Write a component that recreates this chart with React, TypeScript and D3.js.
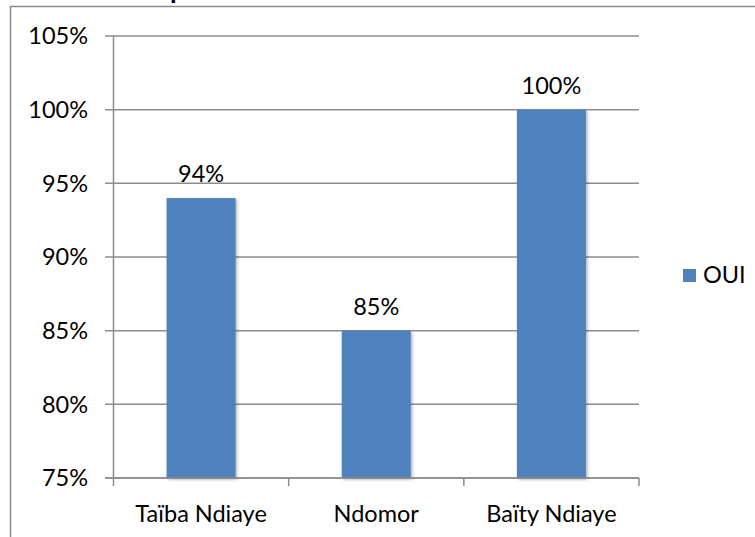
import React from "react";
import * as d3 from "d3";

const categories = ["Taïba Ndiaye", "Ndomor", "Baïty Ndiaye"];
const values = [94, 85, 100];
const valueLabels = ["94%", "85%", "100%"];
const yTicks = [75, 80, 85, 90, 95, 100, 105];
const seriesName = "OUI";
const titleFragment = "p";

const W = 755;
const H = 537;
const FONT = "Lato, 'Open Sans', sans-serif";
const FS = 23.5;
const BAR = "#4F81BD";
const GRID = "#8C8C8C";

export default function App() {
  const left = 113.5;
  const right = 639;
  const top = 36;
  const bottom = 478;

  const x = d3
    .scaleBand<string>()
    .domain(categories)
    .range([left, right])
    .paddingInner(0.606)
    .paddingOuter(0.303);
  const y = d3.scaleLinear().domain([75, 105]).range([bottom, top]);
  const step = x.step();
  const xTickPos = categories.map((_, i) => left + i * step).concat([right]);

  return (
    <svg
      width={W}
      height={H}
      style={{ position: "absolute", left: 0, top: 0, background: "#fff" }}
      fontFamily={FONT}
    >
      <defs>
        <filter id="sh" x="-20%" y="-20%" width="140%" height="140%">
          <feDropShadow dx="1.5" dy="1.5" stdDeviation="1.5" floodColor="#000" floodOpacity="0.3" />
        </filter>
      </defs>
      <rect x={0} y={0} width={W} height={H} fill="#fff" />
      {/* cut-off title (only its descender is visible in the reference) */}
      <text x={170} y={-2} fontSize={24} fontWeight="bold" fill="#000" fontFamily="'Liberation Sans', sans-serif">
        {titleFragment}
      </text>
      {/* chart frame */}
      <rect x={10.5} y={6.5} width={W + 20} height={H + 20} fill="none" stroke="#8A8A8A" strokeWidth={1.5} />

      {/* gridlines + y ticks */}
      {yTicks.map((t) => (
        <g key={t}>
          <line x1={105} x2={right} y1={y(t)} y2={y(t)} stroke={GRID} strokeWidth={1.5} />
          <text x={88} y={y(t)} dy="0.36em" textAnchor="end" fontSize={FS} fill="#000">
            {t}%
          </text>
        </g>
      ))}
      {/* y axis */}
      <line x1={left} x2={left} y1={top} y2={bottom} stroke={GRID} strokeWidth={1.5} />
      {/* x ticks */}
      {xTickPos.map((p, i) => (
        <line key={i} x1={p} x2={p} y1={bottom} y2={bottom + 8} stroke={GRID} strokeWidth={1.5} />
      ))}

      {/* bars */}
      {categories.map((c, i) => (
        <rect
          key={c}
          x={x(c)}
          y={y(values[i])}
          width={x.bandwidth()}
          height={bottom - y(values[i])}
          fill={BAR}
          filter="url(#sh)"
        />
      ))}
      {/* x axis line */}
      <line x1={105} x2={right} y1={bottom} y2={bottom} stroke={GRID} strokeWidth={1.5} />

      {/* value labels */}
      {categories.map((c, i) => (
        <text
          key={c}
          x={(x(c) as number) + x.bandwidth() / 2}
          y={y(values[i]) - 16}
          textAnchor="middle"
          fontSize={FS}
          fill="#000"
        >
          {valueLabels[i]}
        </text>
      ))}

      {/* category labels */}
      {categories.map((c) => (
        <text
          key={c}
          x={(x(c) as number) + x.bandwidth() / 2}
          y={522}
          textAnchor="middle"
          fontSize={FS}
          fill="#000"
        >
          {c}
        </text>
      ))}

      {/* legend */}
      <rect x={683} y={269} width={13} height={13} fill={BAR} />
      <text x={703} y={283} fontSize={FS} fill="#000">
        {seriesName}
      </text>
    </svg>
  );
}
